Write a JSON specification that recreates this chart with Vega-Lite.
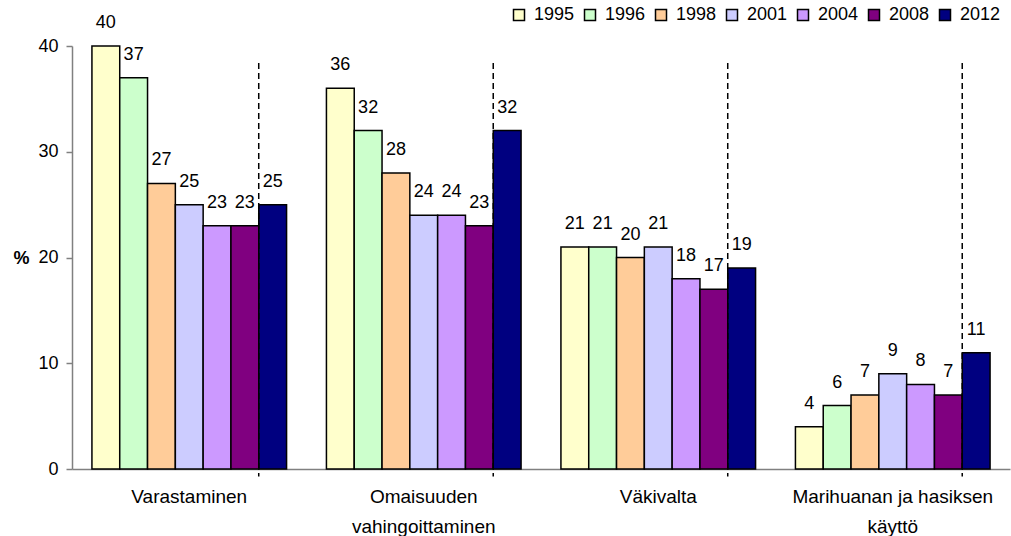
{
  "$schema": "https://vega.github.io/schema/vega-lite/v6.json",
  "autosize": "none",
  "width": 938,
  "height": 423,
  "padding": {"left": 72, "top": 46, "right": 1, "bottom": 67},
  "background": "white",
  "config": {
    "font": "Liberation Sans",
    "view": {"stroke": null}
  },
  "data": {
    "values": [
      {"category": "Varastaminen", "year": "1995", "value": 40},
      {"category": "Varastaminen", "year": "1996", "value": 37},
      {"category": "Varastaminen", "year": "1998", "value": 27},
      {"category": "Varastaminen", "year": "2001", "value": 25},
      {"category": "Varastaminen", "year": "2004", "value": 23},
      {"category": "Varastaminen", "year": "2008", "value": 23},
      {"category": "Varastaminen", "year": "2012", "value": 25},
      {"category": "Omaisuuden vahingoittaminen", "year": "1995", "value": 36},
      {"category": "Omaisuuden vahingoittaminen", "year": "1996", "value": 32},
      {"category": "Omaisuuden vahingoittaminen", "year": "1998", "value": 28},
      {"category": "Omaisuuden vahingoittaminen", "year": "2001", "value": 24},
      {"category": "Omaisuuden vahingoittaminen", "year": "2004", "value": 24},
      {"category": "Omaisuuden vahingoittaminen", "year": "2008", "value": 23},
      {"category": "Omaisuuden vahingoittaminen", "year": "2012", "value": 32},
      {"category": "Väkivalta", "year": "1995", "value": 21},
      {"category": "Väkivalta", "year": "1996", "value": 21},
      {"category": "Väkivalta", "year": "1998", "value": 20},
      {"category": "Väkivalta", "year": "2001", "value": 21},
      {"category": "Väkivalta", "year": "2004", "value": 18},
      {"category": "Väkivalta", "year": "2008", "value": 17},
      {"category": "Väkivalta", "year": "2012", "value": 19},
      {"category": "Marihuanan ja hasiksen käyttö", "year": "1995", "value": 4},
      {"category": "Marihuanan ja hasiksen käyttö", "year": "1996", "value": 6},
      {"category": "Marihuanan ja hasiksen käyttö", "year": "1998", "value": 7},
      {"category": "Marihuanan ja hasiksen käyttö", "year": "2001", "value": 9},
      {"category": "Marihuanan ja hasiksen käyttö", "year": "2004", "value": 8},
      {"category": "Marihuanan ja hasiksen käyttö", "year": "2008", "value": 7},
      {"category": "Marihuanan ja hasiksen käyttö", "year": "2012", "value": 11}
    ]
  },
  "encoding": {
    "x": {
      "field": "category",
      "type": "nominal",
      "sort": null,
      "scale": {"paddingInner": 0.17, "paddingOuter": 0.085},
      "axis": {
        "title": null,
        "labelAngle": 0,
        "labelFontSize": 19,
        "labelColor": "black",
        "labelPadding": 18,
        "labelLineHeight": 30,
        "labelBaseline": "top",
        "labelLimit": 400,
        "ticks": false,
        "domainColor": "#808080",
        "domainWidth": 1.5,
        "labelExpr": "datum.value == 'Omaisuuden vahingoittaminen' ? ['Omaisuuden', 'vahingoittaminen'] : datum.value == 'Marihuanan ja hasiksen käyttö' ? ['Marihuanan ja hasiksen', 'käyttö'] : datum.value"
      }
    }
  },
  "layer": [
    {
      "mark": {"type": "bar", "stroke": "black", "strokeWidth": 1.5},
      "encoding": {
        "xOffset": {"field": "year", "type": "nominal", "sort": null},
        "y": {
          "field": "value",
          "type": "quantitative",
          "scale": {"domain": [0, 40], "nice": false},
          "axis": {
            "title": "%",
            "titleAngle": 0,
            "titleFontSize": 18,
            "titleFontWeight": "bold",
            "titleX": -51,
            "titleY": 212,
            "titleBaseline": "middle",
            "titleAlign": "center",
            "values": [0, 10, 20, 30, 40],
            "grid": false,
            "labelFontSize": 18,
            "labelColor": "black",
            "labelPadding": 8,
            "tickSize": 6,
            "tickColor": "#808080",
            "tickWidth": 1.5,
            "domainColor": "#808080",
            "domainWidth": 1.5
          }
        },
        "fill": {
          "field": "year",
          "type": "nominal",
          "sort": null,
          "scale": {
            "domain": ["1995", "1996", "1998", "2001", "2004", "2008", "2012"],
            "range": ["#FFFFCC", "#CCFFCC", "#FFCC99", "#CCCCFF", "#CC99FF", "#800080", "#000080"]
          },
          "legend": {
            "title": null,
            "orient": "none",
            "direction": "horizontal",
            "columns": 7,
            "legendX": 438,
            "legendY": -40,
            "padding": 0,
            "symbolType": "square",
            "symbolSize": 121,
            "symbolStrokeColor": "black",
            "symbolStrokeWidth": 1.5,
            "labelFontSize": 18,
            "labelColor": "black",
            "labelOffset": 6,
            "columnPadding": 6
          }
        }
      }
    },
    {
      "mark": {"type": "text", "fontSize": 18, "baseline": "middle", "dy": -23, "color": "black"},
      "encoding": {
        "xOffset": {"field": "year", "type": "nominal", "sort": null},
        "y": {"field": "value", "type": "quantitative"},
        "text": {"field": "value", "type": "quantitative"}
      }
    },
    {
      "transform": [{"filter": "datum.year == '2012'"}],
      "mark": {"type": "rule", "color": "black", "strokeWidth": 1.5, "strokeDash": [6, 4]},
      "encoding": {
        "x": {"field": "category", "type": "nominal", "sort": null, "bandPosition": 0.857},
        "y": {"datum": 38.4},
        "y2": {"datum": -0.7}
      }
    }
  ]
}
